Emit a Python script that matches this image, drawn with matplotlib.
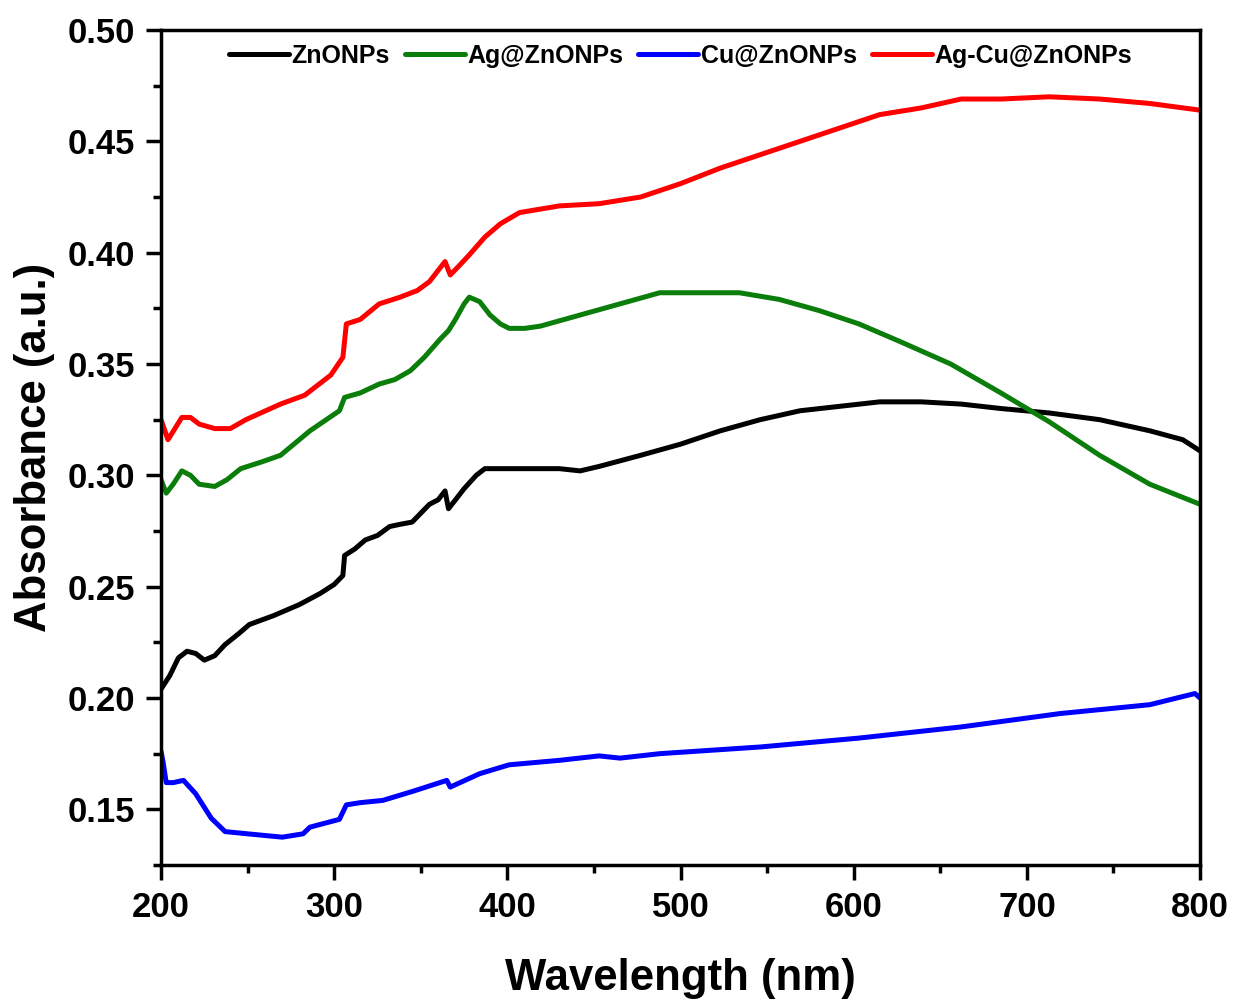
import numpy as np
import matplotlib.pyplot as plt
from matplotlib.ticker import MultipleLocator

plt.rcParams['font.family'] = ['Liberation Sans', 'DejaVu Sans']
plt.rcParams['font.weight'] = 'bold'

# ZnONPs
zn_wl = [200, 205, 210, 215, 220, 225, 231, 237, 245, 251, 265, 280, 292, 300, 305, 306,
         312, 318, 325, 332, 338, 345, 350, 355, 360, 364, 366, 370, 375, 382, 387, 396,
         410, 430, 442, 453, 477, 500, 523, 546, 569, 592, 615, 639, 662, 685, 713, 742,
         771, 790, 800]
zn_abs = [0.204, 0.210, 0.218, 0.221, 0.220, 0.217, 0.219, 0.224, 0.229, 0.233, 0.237, 0.242,
          0.247, 0.251, 0.255, 0.264, 0.267, 0.271, 0.273, 0.277, 0.278, 0.279, 0.283, 0.287,
          0.289, 0.293, 0.285, 0.289, 0.294, 0.300, 0.303, 0.303, 0.303, 0.303, 0.302, 0.304,
          0.309, 0.314, 0.320, 0.325, 0.329, 0.331, 0.333, 0.333, 0.332, 0.330, 0.328, 0.325,
          0.320, 0.316, 0.311]

# Ag@ZnONPs
ag_wl = [200, 203, 207, 212, 217, 222, 231, 238, 246, 258, 269, 286, 303, 306, 315, 326,
         335, 344, 352, 361, 366, 370, 375, 378, 384, 390, 396, 401, 410, 419, 442, 465,
         488, 511, 534, 557, 580, 603, 627, 656, 685, 713, 742, 771, 800]
ag_abs = [0.298, 0.292, 0.296, 0.302, 0.300, 0.296, 0.295, 0.298, 0.303, 0.306, 0.309, 0.320,
          0.329, 0.335, 0.337, 0.341, 0.343, 0.347, 0.353, 0.361, 0.365, 0.370, 0.377, 0.380,
          0.378, 0.372, 0.368, 0.366, 0.366, 0.367, 0.372, 0.377, 0.382, 0.382, 0.382, 0.379,
          0.374, 0.368, 0.360, 0.350, 0.337, 0.324, 0.309, 0.296, 0.287]

# Cu@ZnONPs
cu_wl = [200, 201, 203, 207, 213, 220, 229, 237, 250, 270, 282, 286, 303, 307, 315, 328,
         345, 365, 367, 384, 401, 430, 453, 465, 488, 546, 603, 662, 719, 771, 797, 800]
cu_abs = [0.176, 0.172, 0.162, 0.162, 0.163, 0.157, 0.146, 0.140, 0.139, 0.1375, 0.139, 0.142,
          0.1455, 0.152, 0.153, 0.154, 0.158, 0.163, 0.160, 0.166, 0.170, 0.172, 0.174, 0.173,
          0.175, 0.178, 0.182, 0.187, 0.193, 0.197, 0.202, 0.200]

# Ag-Cu@ZnONPs
agcu_wl = [200, 204, 208, 212, 217, 222, 231, 240, 249, 269, 283, 298, 305, 307, 315, 326,
           338, 348, 355, 364, 367, 372, 378, 387, 396, 407, 430, 453, 477, 500, 523, 546,
           569, 592, 615, 639, 662, 685, 713, 742, 771, 800]
agcu_abs = [0.325, 0.316, 0.321, 0.326, 0.326, 0.323, 0.321, 0.321, 0.325, 0.332, 0.336, 0.345,
            0.353, 0.368, 0.370, 0.377, 0.380, 0.383, 0.387, 0.396, 0.390, 0.394, 0.399, 0.407,
            0.413, 0.418, 0.421, 0.422, 0.425, 0.431, 0.438, 0.444, 0.450, 0.456, 0.462, 0.465,
            0.469, 0.469, 0.470, 0.469, 0.467, 0.464]

fig = plt.figure(figsize=(12.35, 10), dpi=100)
ax = fig.add_axes([0.1304, 0.135, 0.8413, 0.835])

line_kw = dict(lw=3.6, solid_joinstyle='round', solid_capstyle='round')
ax.plot(zn_wl, zn_abs, color='black', label='ZnONPs', **line_kw)
ax.plot(ag_wl, ag_abs, color='#0a7d0a', label='Ag@ZnONPs', **line_kw)
ax.plot(cu_wl, cu_abs, color='#0000ff', label='Cu@ZnONPs', **line_kw)
ax.plot(agcu_wl, agcu_abs, color='#ff0000', label='Ag-Cu@ZnONPs', **line_kw)

ax.set_xlim(200, 800)
ax.set_ylim(0.125, 0.50)
ax.xaxis.set_major_locator(MultipleLocator(100))
ax.xaxis.set_minor_locator(MultipleLocator(50))
ax.yaxis.set_minor_locator(MultipleLocator(0.025))
ax.set_yticks(np.arange(0.15, 0.501, 0.05))
ax.set_yticklabels(['%.2f' % v for v in np.arange(0.15, 0.501, 0.05)])

ax.tick_params(which='major', direction='out', length=11, width=2.5, labelsize=25, pad=8)
ax.tick_params(which='minor', direction='out', length=6, width=2.5)
for s in ax.spines.values():
    s.set_linewidth(2.5)

ax.set_xlabel('Wavelength (nm)', fontsize=31.5, fontweight='bold', labelpad=24)
ax.set_ylabel('Absorbance (a.u.)', fontsize=31.5, fontweight='bold', labelpad=9)

ax.legend(loc='upper center', ncol=4, frameon=False, fontsize=18, handlelength=2.4,
          handletextpad=0.1, columnspacing=0.6, bbox_to_anchor=(0.5, 1.01))

fig.savefig('out.png', dpi=100)
